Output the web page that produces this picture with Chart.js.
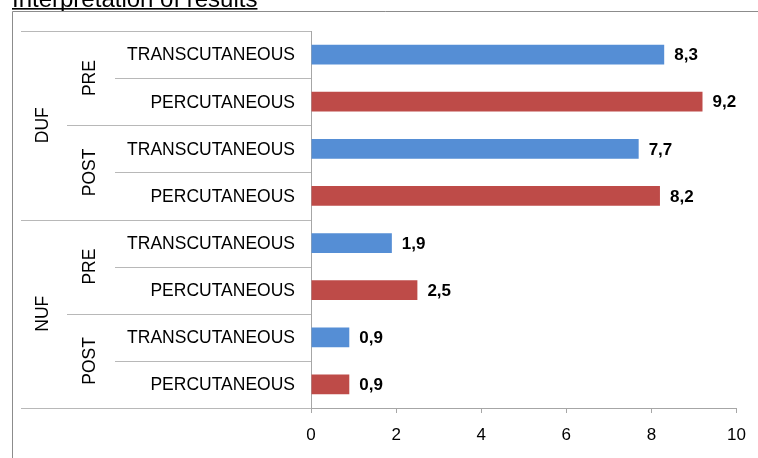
<!DOCTYPE html>
<html>
<head>
<meta charset="utf-8">
<script src="https://cdn.jsdelivr.net/npm/chart.js@4.4.1/dist/chart.umd.min.js"></script>
<style>
  html, body { margin: 0; padding: 0; background: #fff; }
  #wrap { position: relative; width: 758px; height: 458px; overflow: hidden; }
  canvas { position: absolute; left: 0; top: 0; }
</style>
</head>
<body>
<div id="wrap"><canvas id="c" width="758" height="458"></canvas></div>
<script>
// ---- data ----
const titleText = 'Interpretation of results';
const outcomeGroups = ['DUF', 'NUF'];
const timeGroups = ['PRE', 'POST', 'PRE', 'POST'];
const categories = ['TRANSCUTANEOUS', 'PERCUTANEOUS', 'TRANSCUTANEOUS', 'PERCUTANEOUS',
                    'TRANSCUTANEOUS', 'PERCUTANEOUS', 'TRANSCUTANEOUS', 'PERCUTANEOUS'];
const values = [8.3, 9.2, 7.7, 8.2, 1.9, 2.5, 0.9, 0.9];
const xTicks = [0, 2, 4, 6, 8, 10];

const BLUE = '#558ED5';
const RED = '#BE4B48';
const FONT = '"Liberation Sans", Arial, sans-serif';

const fmt = v => v.toFixed(1).replace('.', ',');

const hierPlugin = {
  id: 'hier',
  afterDraw(chart) {
    const ctx = chart.ctx;
    const y = chart.scales.y;
    const left = chart.chartArea.left;
    const n = categories.length;
    ctx.save();
    // title
    ctx.fillStyle = '#000';
    ctx.font = '24px ' + FONT;
    ctx.textAlign = 'left';
    ctx.textBaseline = 'alphabetic';
    ctx.fillText(titleText, 12, 7);
    const tw = ctx.measureText(titleText).width;
    ctx.fillRect(12, 8, tw, 1.6);
    // frame
    ctx.strokeStyle = '#8c8c8c';
    ctx.lineWidth = 1;
    ctx.beginPath();
    ctx.moveTo(12.5, 458); ctx.lineTo(12.5, 11.5); ctx.lineTo(758, 11.5);
    ctx.stroke();
    // separators
    ctx.strokeStyle = '#b8b8b8';
    for (let b = 0; b <= n; b++) {
      const py = Math.round(y.getPixelForValue(b - 0.5)) + 0.5;
      const x0 = (b % 4 === 0) ? 21 : (b % 2 === 0 ? 67 : 115);
      ctx.beginPath();
      ctx.moveTo(x0, py); ctx.lineTo(left, py);
      ctx.stroke();
    }
    // category labels
    ctx.fillStyle = '#000';
    ctx.font = '17.5px ' + FONT;
    ctx.textAlign = 'right';
    ctx.textBaseline = 'middle';
    categories.forEach((c, i) => {
      ctx.fillText(c, 295, y.getPixelForValue(i) + 1);
    });
    // time group labels (rotated)
    ctx.textAlign = 'center';
    timeGroups.forEach((g, k) => {
      const cy = (y.getPixelForValue(2 * k) + y.getPixelForValue(2 * k + 1)) / 2;
      ctx.save();
      ctx.translate(89, cy);
      ctx.rotate(-Math.PI / 2);
      ctx.fillText(g, 0, 1);
      ctx.restore();
    });
    outcomeGroups.forEach((g, k) => {
      const cy = (y.getPixelForValue(4 * k) + y.getPixelForValue(4 * k + 3)) / 2;
      ctx.save();
      ctx.translate(42.5, cy);
      ctx.rotate(-Math.PI / 2);
      ctx.fillText(g, 0, 1);
      ctx.restore();
    });
    // value labels
    ctx.font = 'bold 17px ' + FONT;
    ctx.textAlign = 'left';
    const meta = chart.getDatasetMeta(0);
    meta.data.forEach((bar, i) => {
      ctx.fillText(fmt(values[i]), bar.x + 10, bar.y + 1);
    });
    ctx.restore();
  }
};

new Chart(document.getElementById('c'), {
  type: 'bar',
  data: {
    labels: categories,
    datasets: [{
      data: values,
      backgroundColor: categories.map(c => c === 'TRANSCUTANEOUS' ? BLUE : RED),
      categoryPercentage: 1,
      barPercentage: 0.42
    }]
  },
  options: {
    indexAxis: 'y',
    responsive: false,
    animation: false,
    layout: { padding: { top: 31, right: 21, bottom: 12, left: 0 } },
    plugins: { legend: { display: false }, tooltip: { enabled: false } },
    scales: {
      x: {
        min: 0, max: 10,
        afterBuildTicks: s => { s.ticks = xTicks.map(v => ({ value: v })); },
        ticks: { color: '#000', font: { family: FONT, size: 17 }, padding: 12 },
        grid: { drawOnChartArea: false, drawTicks: true, tickLength: 5, color: '#a6a6a6' },
        border: { color: '#a6a6a6' },
        afterFit: s => { s.height = 38; }
      },
      y: {
        ticks: { display: false },
        grid: { display: false },
        border: { color: '#a6a6a6' },
        afterFit: s => { s.width = 311; }
      }
    }
  },
  plugins: [hierPlugin]
});
</script>
</body>
</html>
